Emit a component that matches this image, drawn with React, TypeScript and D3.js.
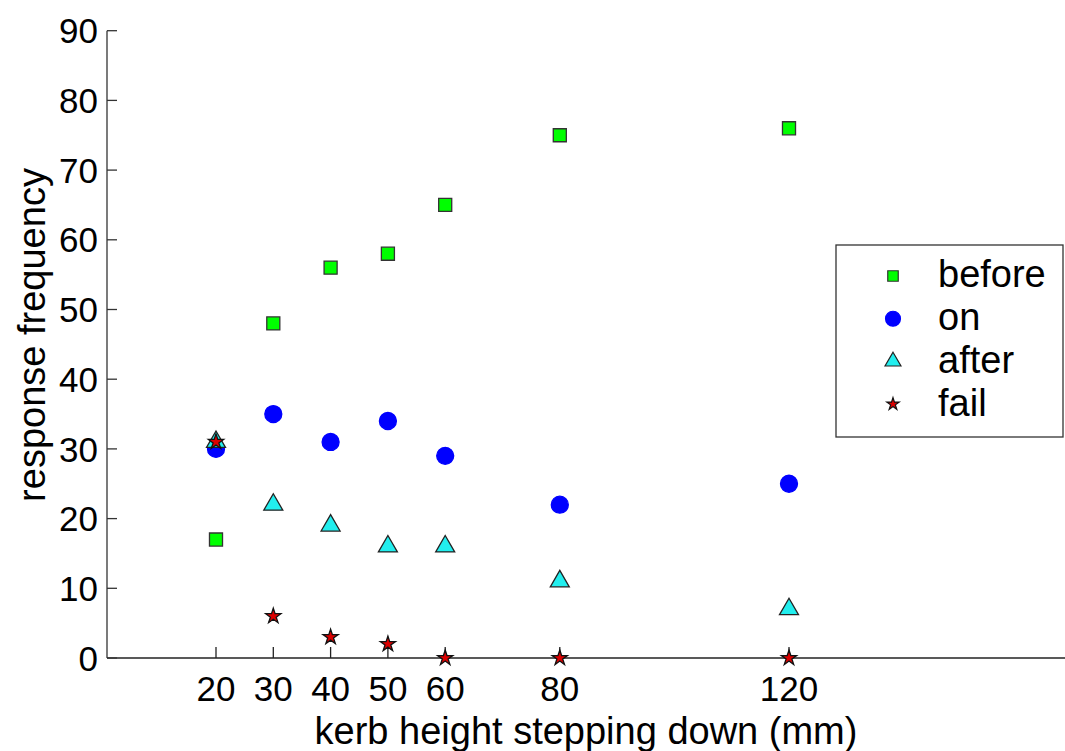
import React, { useEffect, useRef } from 'react';
import * as d3 from 'd3';

// kerb heights (mm)
const heights = [20, 30, 40, 50, 60, 80, 120];
const before = [17, 48, 56, 58, 65, 75, 76];
const on = [30, 35, 31, 34, 29, 22, 25];
const after = [31, 22, 19, 16, 16, 11, 7];
const fail = [31, 6, 3, 2, 0, 0, 0];
const yTicks = [0, 10, 20, 30, 40, 50, 60, 70, 80, 90];

const seriesList = [
  { name: 'before', values: before, symbol: d3.symbolSquare, size: 170, legendSize: 110, fill: '#00ff00', stroke: '#333333' },
  { name: 'on', values: on, symbol: d3.symbolCircle, size: 227, legendSize: 175, fill: '#0000ff', stroke: '#0000ff' },
  { name: 'after', values: after, symbol: d3.symbolTriangle, size: 156, legendSize: 110, fill: '#22eeee', stroke: '#222222' },
  { name: 'fail', values: fail, symbol: d3.symbolStar, size: 72, legendSize: 48, fill: '#dd0000', stroke: '#111111' },
];

const W = 1065;
const H = 751;

export default function App() {
  const svgRef = useRef<SVGSVGElement>(null);

  useEffect(() => {
    const svg = d3.select(svgRef.current);
    svg.selectAll('*').remove();

    const font = 'Liberation Sans, Arial, Helvetica, sans-serif';
    const x = d3.scaleLinear().domain([20, 120]).range([216, 789]);
    const y = d3.scaleLinear().domain([0, 90]).range([658, 30.7]);
    const left = 107;
    const right = W;

    // axes
    svg.append('line')
      .attr('x1', left).attr('x2', left)
      .attr('y1', y(90)).attr('y2', y(0))
      .attr('stroke', '#333').attr('stroke-width', 1.3);
    svg.append('line')
      .attr('x1', left).attr('x2', right)
      .attr('y1', y(0)).attr('y2', y(0))
      .attr('stroke', '#222').attr('stroke-width', 1.3);

    const yt = svg.append('g');
    yTicks.forEach(t => {
      yt.append('line')
        .attr('x1', left).attr('x2', left + 10)
        .attr('y1', y(t)).attr('y2', y(t))
        .attr('stroke', '#333').attr('stroke-width', 1.3);
      yt.append('text')
        .attr('x', 98).attr('y', y(t)).attr('dy', '0.36em')
        .attr('text-anchor', 'end')
        .attr('font-family', font).attr('font-size', 35)
        .text(t);
    });

    const xt = svg.append('g');
    heights.forEach(h => {
      xt.append('line')
        .attr('x1', x(h)).attr('x2', x(h))
        .attr('y1', y(0)).attr('y2', y(0) - 11)
        .attr('stroke', '#222').attr('stroke-width', 1.3);
      xt.append('text')
        .attr('x', x(h)).attr('y', 701)
        .attr('text-anchor', 'middle')
        .attr('font-family', font).attr('font-size', 35)
        .text(h);
    });

    svg.append('text')
      .attr('x', (left + right) / 2).attr('y', 744)
      .attr('text-anchor', 'middle')
      .attr('font-family', font).attr('font-size', 38)
      .text('kerb height stepping down (mm)');

    svg.append('text')
      .attr('transform', 'translate(45,335) rotate(-90)')
      .attr('text-anchor', 'middle')
      .attr('font-family', font).attr('font-size', 38)
      .text('response frequency');

    // markers
    seriesList.forEach(s => {
      const sym = d3.symbol().type(s.symbol).size(s.size);
      svg.append('g').selectAll('path')
        .data(s.values)
        .enter().append('path')
        .attr('d', sym)
        .attr('transform', (d, i) => `translate(${x(heights[i])},${y(d)})`)
        .attr('fill', s.fill)
        .attr('stroke', s.stroke)
        .attr('stroke-width', 1.3);
    });

    // legend
    const lg = svg.append('g');
    lg.append('rect')
      .attr('x', 836).attr('y', 245)
      .attr('width', 227).attr('height', 192)
      .attr('fill', '#fff').attr('stroke', '#333').attr('stroke-width', 1.3);
    seriesList.forEach((s, i) => {
      const cy = 276 + i * 42.7;
      lg.append('path')
        .attr('d', d3.symbol().type(s.symbol).size(s.legendSize))
        .attr('transform', `translate(893,${cy})`)
        .attr('fill', s.fill)
        .attr('stroke', s.stroke)
        .attr('stroke-width', 1.2);
      lg.append('text')
        .attr('x', 938).attr('y', cy).attr('dy', '0.3em')
        .attr('font-family', font).attr('font-size', 38)
        .text(s.name);
    });
  }, []);

  return (
    <svg
      ref={svgRef}
      width={W}
      height={H}
      style={{ position: 'absolute', left: 0, top: 0, background: '#fff' }}
    />
  );
}
